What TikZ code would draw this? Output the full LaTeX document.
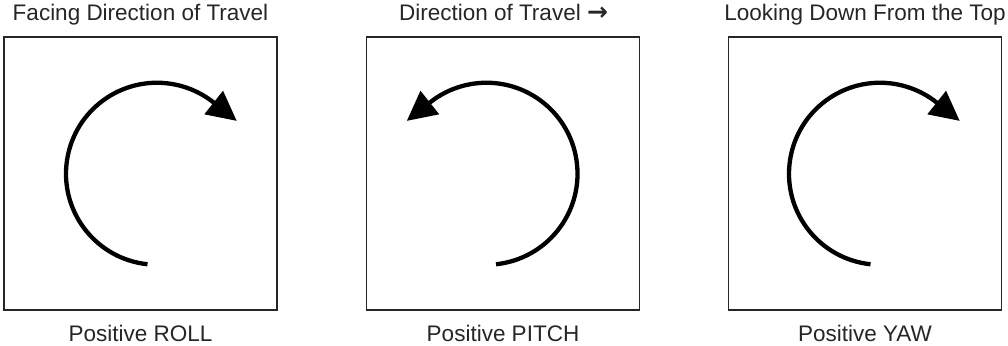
\documentclass[tikz,border=0pt]{standalone}
\usepackage{fontspec}
\setmainfont{Liberation Sans}
\newfontfamily\arrowfont{DejaVu Sans}
\usetikzlibrary{arrows.meta,calc}
\begin{document}
\begin{tikzpicture}[x=1pt,y=1pt,
  panel/.style={draw=black!85,line width=1.9pt,minimum width=273pt,minimum height=273pt,inner sep=0pt},
  lbl/.style={anchor=base,inner sep=0pt,font=\fontsize{22.5}{26}\selectfont,text=black!85},
  rot/.style={line width=4.3pt,black,-{Triangle[length=29.5pt,width=29pt]}}]
\useasboundingbox (0,0) rectangle (1008,345);
% panels
\node[panel] (b1) at (140.5,171.25) {};
\node[panel] (b2) at (503,171.25) {};
\node[panel] (b3) at (865,171.25) {};
% titles
\node[lbl] (t1) at (140.5,324) {Facing Direction of Travel};
\node[lbl] (t2) at (503.5,324) {Direction of Travel {\arrowfont\bfseries\fontsize{25}{25}\selectfont →}};
\node[lbl] (t3) at (865,324) {Looking Down From the Top};
% bottom labels
\node[lbl] (l1) at (140.5,4) {Positive ROLL};
\node[lbl] (l2) at (503,4) {Positive PITCH};
\node[lbl] (l3) at (865,4) {Positive YAW};
% arc centres
\coordinate (c1) at ($(b1.center)+(16.5,0)$);
\coordinate (c2) at ($(b2.center)+(-16.5,0)$);
\coordinate (c3) at ($(b3.center)+(15,0)$);
% rotation arrows
\draw[rot] ($(c1)+(264:91)$) arc[start angle=264,end angle=51.5,radius=91] -- ++(-38.5:29.5);
\draw[rot] ($(c2)+(-84:91)$) arc[start angle=-84,end angle=128.5,radius=91] -- ++(218.5:29.5);
\draw[rot] ($(c3)+(264:91)$) arc[start angle=264,end angle=51.5,radius=91] -- ++(-38.5:29.5);
\end{tikzpicture}
\end{document}
